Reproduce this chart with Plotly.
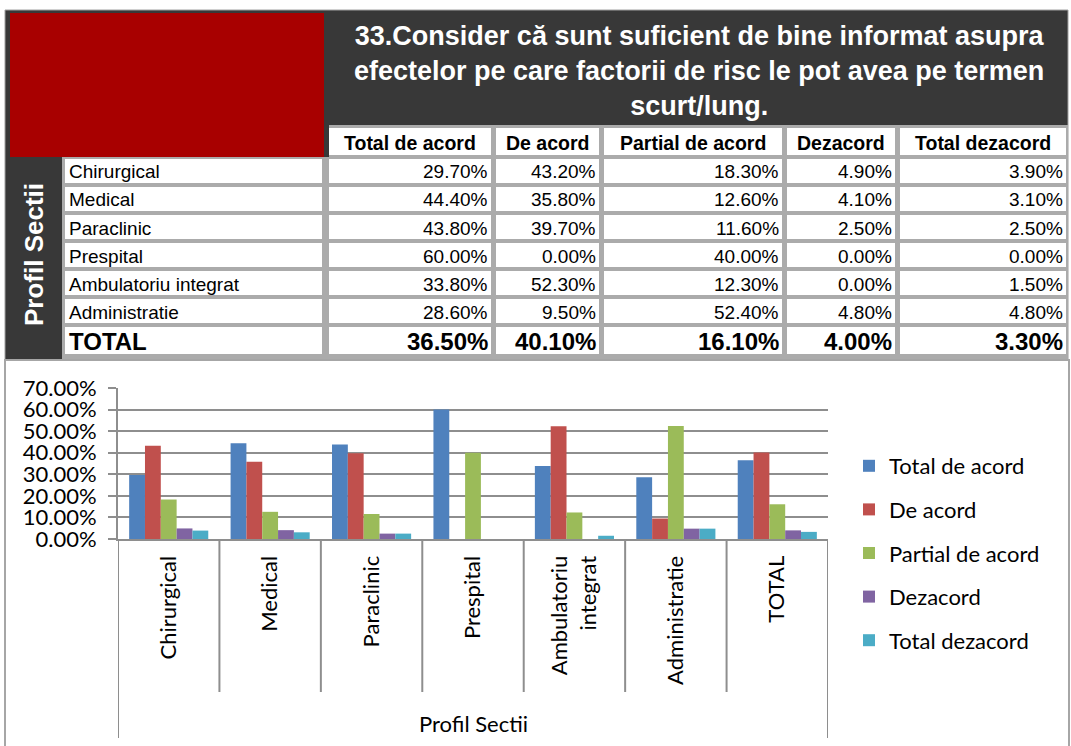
import plotly.graph_objects as go

# ---- data -----------------------------------------------------------------
categories = ["Chirurgical", "Medical", "Paraclinic", "Prespital",
              "Ambulatoriu integrat", "Administratie", "TOTAL"]
tick_labels = ["Chirurgical", "Medical", "Paraclinic", "Prespital",
               "Ambulatoriu<br>integrat", "Administratie", "TOTAL"]
series_names = ["Total de acord", "De acord", "Partial de acord",
                "Dezacord", "Total dezacord"]
total_de_acord = [29.7, 44.4, 43.8, 60.0, 33.8, 28.6, 36.5]
de_acord = [43.2, 35.8, 39.7, 0.0, 52.3, 9.5, 40.1]
partial_de_acord = [18.3, 12.6, 11.6, 40.0, 12.3, 52.4, 16.1]
dezacord = [4.9, 4.1, 2.5, 0.0, 0.0, 4.8, 4.0]
total_dezacord = [3.9, 3.1, 2.5, 0.0, 1.5, 4.8, 3.3]
y_ticks = [0, 10, 20, 30, 40, 50, 60, 70]
y_tick_text = ["0.00%", "10.00%", "20.00%", "30.00%", "40.00%",
               "50.00%", "60.00%", "70.00%"]

title_lines = ["33.Consider că sunt suficient de bine informat asupra",
               "efectelor pe care factorii de risc le pot avea pe termen",
               "scurt/lung."]
side_title = "Profil Sectii"
axis_title = "Profil Sectii"

series = [total_de_acord, de_acord, partial_de_acord, dezacord, total_dezacord]
colors = ["#4F81BD", "#C0504D", "#9BBB59", "#8064A2", "#4BACC6"]

# ---- page geometry (pixels) ----------------------------------------------
W, H = 1071, 746


def fx(p):
    return p / W


def fy(p):
    return 1 - p / H


TABLE_FONT = "Liberation Sans, Arial, sans-serif"
CHART_FONT = "Lato, Calibri, sans-serif"
DARK = "#383838"
GRID = "#8E8E8E"
SEP = "#ABABAB"

# white cell spans of the grid: label column then one column per series
col_spans = [(65, 322), (329, 491), (496, 599), (604, 782), (787, 895), (900, 1066)]
header_span = (128, 155)
first_row_top, row_pitch, row_h = 159, 28, 24
total_row_span = (327, 354)

shapes = []
annotations = []


def rect(x0, y0, x1, y1, fill, line_color=None, line_width=0, layer="below"):
    shapes.append(dict(type="rect", xref="paper", yref="paper",
                       x0=fx(x0), x1=fx(x1), y0=fy(y1), y1=fy(y0),
                       fillcolor=fill, layer=layer,
                       line=dict(color=line_color or fill, width=line_width)))


def text(s, x, y, size, color="black", bold=False, anchor="left", family=TABLE_FONT,
         angle=0):
    annotations.append(dict(text=s, xref="paper", yref="paper", x=fx(x), y=fy(y),
                            xanchor=anchor, yanchor="middle", showarrow=False,
                            textangle=angle,
                            font=dict(family=family, size=size, color=color,
                                      weight="bold" if bold else "normal")))


# dark frame, red corner block, grey grid behind the cells
rect(5, 10, 1068, 360, DARK, "#A0A0A0", 1)
rect(10, 13, 324, 157, "#A80000")
rect(329, 125, 1068, 359, SEP)
rect(62, 157, 329, 359, SEP)

# title and vertical side title
text("<br>".join(title_lines), (329 + 1068) / 2, 71, 27, "white", True, "center")
text(side_title, 34, 255, 26, "white", True, "center", angle=-90)

# header row
for (x0, x1), name in zip(col_spans[1:], series_names):
    rect(x0, header_span[0], x1, header_span[1], "white")
    text(name, (x0 + x1) / 2, sum(header_span) / 2 + 2, 19.5, bold=True, anchor="center")

# body rows
n = len(categories)
for i, cat in enumerate(categories):
    last = i == n - 1
    if last:
        top, bot = total_row_span
    else:
        top = first_row_top + i * row_pitch
        bot = top + row_h
    mid = (top + bot) / 2 + 1
    size = 24 if last else 19
    for x0, x1 in col_spans:
        rect(x0, top, x1, bot, "white")
    text(cat, col_spans[0][0] + 2, mid, size, bold=last)
    for (x0, x1), vals in zip(col_spans[1:], series):
        text(f"{vals[i]:.2f}%", x1 - 1, mid, size, bold=last, anchor="right")

# ---- bar chart ------------------------------------------------------------
PLOT_L, PLOT_R, PLOT_T, PLOT_B = 118, 828, 388, 539

fig = go.Figure()
for name, vals, c in zip(series_names, series, colors):
    fig.add_trace(go.Bar(name=name, x=categories, y=vals, marker_color=c,
                         marker_line_width=0, legendgroup=name))

# category separators below the axis and outer frame lines
for k in range(n + 1):
    outer = k in (0, n)
    shapes.append(dict(type="line", xref="x", yref="paper", x0=k - 0.5, x1=k - 0.5,
                       y0=fy(738 if outer else 692), y1=fy(PLOT_B),
                       line=dict(color=GRID, width=2), layer="above"))

# chart border
shapes.append(dict(type="rect", xref="paper", yref="paper", x0=fx(5), x1=fx(1069),
                   y0=fy(770), y1=fy(360), line=dict(color="#A6A6A6", width=2),
                   fillcolor="rgba(0,0,0,0)", layer="below"))

text(axis_title, (PLOT_L + PLOT_R) / 2, 723, 22, family=CHART_FONT, anchor="center")

fig.update_layout(
    width=W, height=H, autosize=False,
    margin=dict(l=0, r=0, t=0, b=0, pad=0, autoexpand=False),
    paper_bgcolor="white", plot_bgcolor="white",
    barmode="group", bargap=0.22, bargroupgap=0,
    shapes=shapes, annotations=annotations,
    legend=dict(x=fx(849), y=fy(445), xanchor="left", yanchor="top",
                font=dict(family=CHART_FONT, size=22, color="black"),
                tracegroupgap=12, bgcolor="rgba(0,0,0,0)"),
    xaxis=dict(domain=[fx(PLOT_L), fx(PLOT_R)], type="category", automargin=False,
               range=[-0.5, n - 0.5], tickvals=categories, ticktext=tick_labels,
               tickangle=-90, ticks="", showgrid=False,
               showline=True, linecolor=GRID, linewidth=2,
               tickfont=dict(family=CHART_FONT, size=22, color="black"),
               ticklabelstandoff=6),
    yaxis=dict(domain=[fy(PLOT_B), fy(PLOT_T)], range=[0, 70], automargin=False,
               tickvals=y_ticks, ticktext=y_tick_text,
               showgrid=True, gridcolor=GRID,
               gridwidth=2, zeroline=False, showline=True, linecolor=GRID,
               linewidth=2, ticks="outside", ticklen=8, tickcolor=GRID, tickwidth=2,
               tickfont=dict(family=CHART_FONT, size=22, color="black"),
               ticklabelstandoff=7),
)

fig.write_html("out.html")
